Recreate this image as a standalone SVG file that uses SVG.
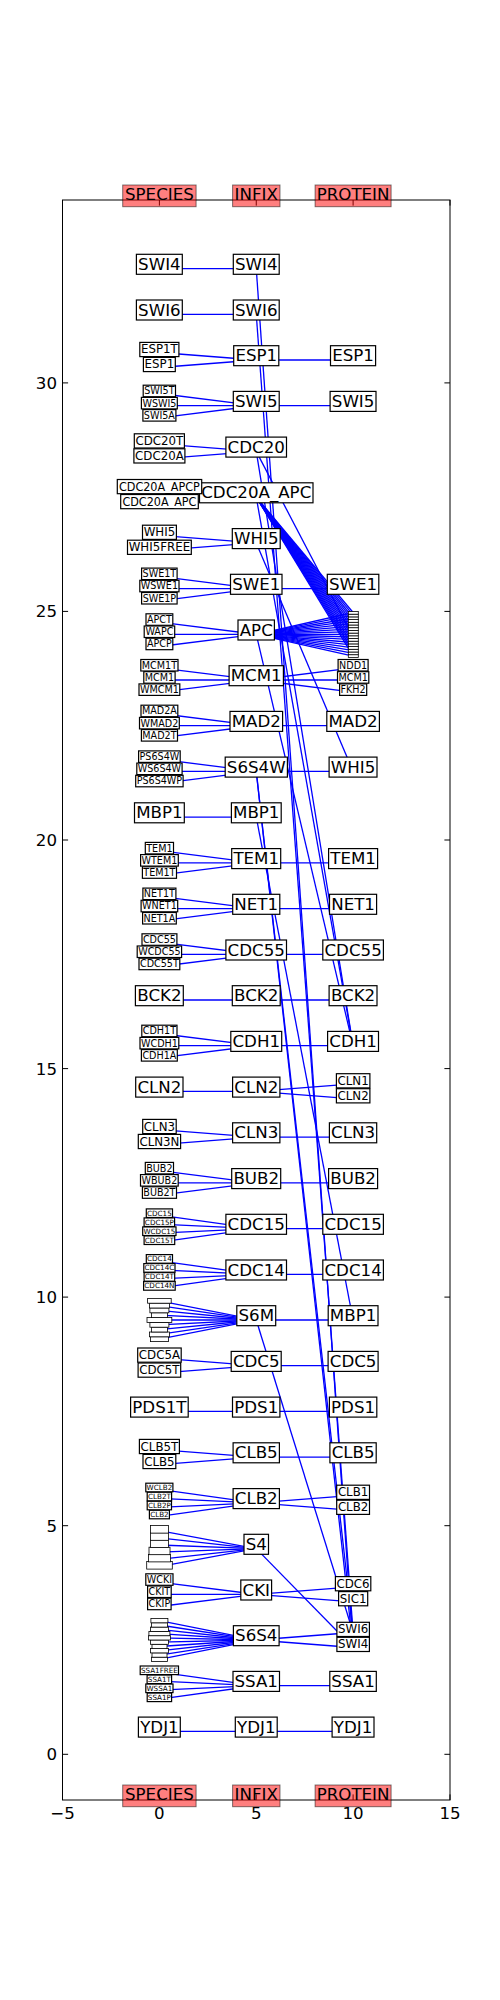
<svg xmlns="http://www.w3.org/2000/svg" width="500" height="2000" viewBox="0 0 500 2000">
<style>
.bg{fill:#fff}
.b{fill:#fff;stroke:#000;stroke-width:1.2}
.sb{fill:#fff;stroke:#000;stroke-width:0.8}
text{font-family:"DejaVu Sans","Liberation Sans",sans-serif;fill:#000;text-anchor:middle}
.f1{font-size:16.67px}.f2{font-size:11.8px}.f3{font-size:9.6px}.f4{font-size:7.2px}
#connectors line{stroke:#0000ff;stroke-width:1.3}
.h{fill:#ff0000;fill-opacity:0.5;stroke:#000;stroke-opacity:0.5}
.ax{fill:none;stroke:#000;stroke-width:1}
.tk{stroke:#000;stroke-width:1}
.yl{text-anchor:end}
</style>
<rect class="bg" x="0" y="0" width="500" height="2000"/>
<g id="axes">
<rect class="ax" x="62.5" y="200" width="387.5" height="1600"/>
<path class="tk" d="M62.5 1800v-5.6M159.4 1800v-5.6M256.25 1800v-5.6M353.1 1800v-5.6M450 1800v-5.6M62.5 200v5.6M159.4 200v5.6M256.25 200v5.6M353.1 200v5.6M450 200v5.6M62.5 1754.3h5.6M62.5 1525.7h5.6M62.5 1297.1h5.6M62.5 1068.6h5.6M62.5 840h5.6M62.5 611.4h5.6M62.5 382.9h5.6M450 1754.3h-5.6M450 1525.7h-5.6M450 1297.1h-5.6M450 1068.6h-5.6M450 840h-5.6M450 611.4h-5.6M450 382.9h-5.6"/>
<text class="f1" x="62.5" y="1818.5">−5</text>
<text class="f1" x="159.4" y="1818.5">0</text>
<text class="f1" x="256.25" y="1818.5">5</text>
<text class="f1" x="353.1" y="1818.5">10</text>
<text class="f1" x="450" y="1818.5">15</text>
<text class="f1 yl" x="57" y="1760.3">0</text>
<text class="f1 yl" x="57" y="1531.7">5</text>
<text class="f1 yl" x="57" y="1303.1">10</text>
<text class="f1 yl" x="57" y="1074.6">15</text>
<text class="f1 yl" x="57" y="846">20</text>
<text class="f1 yl" x="57" y="617.4">25</text>
<text class="f1 yl" x="57" y="388.9">30</text>
</g>
<g id="connectors">
<line x1="159.4" y1="268.6" x2="256.25" y2="268.6"/>
<line x1="159.4" y1="314.3" x2="256.25" y2="314.3"/>
<line x1="159.4" y1="352.5" x2="256.25" y2="360"/>
<line x1="159.4" y1="367.5" x2="256.25" y2="360"/>
<line x1="159.4" y1="393.5" x2="256.25" y2="405.7"/>
<line x1="159.4" y1="405.7" x2="256.25" y2="405.7"/>
<line x1="159.4" y1="417.9" x2="256.25" y2="405.7"/>
<line x1="159.4" y1="443.9" x2="256.25" y2="451.4"/>
<line x1="159.4" y1="458.9" x2="256.25" y2="451.4"/>
<line x1="159.4" y1="489.6" x2="256.25" y2="497.1"/>
<line x1="159.4" y1="504.6" x2="256.25" y2="497.1"/>
<line x1="159.4" y1="535.4" x2="256.25" y2="542.9"/>
<line x1="159.4" y1="550.4" x2="256.25" y2="542.9"/>
<line x1="159.4" y1="576.4" x2="256.25" y2="588.6"/>
<line x1="159.4" y1="588.6" x2="256.25" y2="588.6"/>
<line x1="159.4" y1="600.8" x2="256.25" y2="588.6"/>
<line x1="159.4" y1="622.1" x2="256.25" y2="634.3"/>
<line x1="159.4" y1="634.3" x2="256.25" y2="634.3"/>
<line x1="159.4" y1="646.5" x2="256.25" y2="634.3"/>
<line x1="159.4" y1="667.8" x2="256.25" y2="680"/>
<line x1="159.4" y1="680" x2="256.25" y2="680"/>
<line x1="159.4" y1="692.2" x2="256.25" y2="680"/>
<line x1="159.4" y1="713.5" x2="256.25" y2="725.7"/>
<line x1="159.4" y1="725.7" x2="256.25" y2="725.7"/>
<line x1="159.4" y1="737.9" x2="256.25" y2="725.7"/>
<line x1="159.4" y1="759.2" x2="256.25" y2="771.4"/>
<line x1="159.4" y1="771.4" x2="256.25" y2="771.4"/>
<line x1="159.4" y1="783.6" x2="256.25" y2="771.4"/>
<line x1="159.4" y1="817.1" x2="256.25" y2="817.1"/>
<line x1="159.4" y1="850.7" x2="256.25" y2="862.9"/>
<line x1="159.4" y1="862.9" x2="256.25" y2="862.9"/>
<line x1="159.4" y1="875.1" x2="256.25" y2="862.9"/>
<line x1="159.4" y1="896.4" x2="256.25" y2="908.6"/>
<line x1="159.4" y1="908.6" x2="256.25" y2="908.6"/>
<line x1="159.4" y1="920.8" x2="256.25" y2="908.6"/>
<line x1="159.4" y1="942.1" x2="256.25" y2="954.3"/>
<line x1="159.4" y1="954.3" x2="256.25" y2="954.3"/>
<line x1="159.4" y1="966.5" x2="256.25" y2="954.3"/>
<line x1="159.4" y1="1000" x2="256.25" y2="1000"/>
<line x1="159.4" y1="1033.5" x2="256.25" y2="1045.7"/>
<line x1="159.4" y1="1045.7" x2="256.25" y2="1045.7"/>
<line x1="159.4" y1="1057.9" x2="256.25" y2="1045.7"/>
<line x1="159.4" y1="1091.4" x2="256.25" y2="1091.4"/>
<line x1="159.4" y1="1129.6" x2="256.25" y2="1137.1"/>
<line x1="159.4" y1="1144.6" x2="256.25" y2="1137.1"/>
<line x1="159.4" y1="1170.7" x2="256.25" y2="1182.9"/>
<line x1="159.4" y1="1182.9" x2="256.25" y2="1182.9"/>
<line x1="159.4" y1="1195.1" x2="256.25" y2="1182.9"/>
<line x1="159.4" y1="1215.1" x2="256.25" y2="1228.6"/>
<line x1="159.4" y1="1224.1" x2="256.25" y2="1228.6"/>
<line x1="159.4" y1="1233.1" x2="256.25" y2="1228.6"/>
<line x1="159.4" y1="1242.1" x2="256.25" y2="1228.6"/>
<line x1="159.4" y1="1260.8" x2="256.25" y2="1274.3"/>
<line x1="159.4" y1="1269.8" x2="256.25" y2="1274.3"/>
<line x1="159.4" y1="1278.8" x2="256.25" y2="1274.3"/>
<line x1="159.4" y1="1287.8" x2="256.25" y2="1274.3"/>
<line x1="159.4" y1="1300.8" x2="256.25" y2="1320"/>
<line x1="159.4" y1="1305.6" x2="256.25" y2="1320"/>
<line x1="159.4" y1="1310.4" x2="256.25" y2="1320"/>
<line x1="159.4" y1="1315.2" x2="256.25" y2="1320"/>
<line x1="159.4" y1="1320" x2="256.25" y2="1320"/>
<line x1="159.4" y1="1324.8" x2="256.25" y2="1320"/>
<line x1="159.4" y1="1329.6" x2="256.25" y2="1320"/>
<line x1="159.4" y1="1334.4" x2="256.25" y2="1320"/>
<line x1="159.4" y1="1339.2" x2="256.25" y2="1320"/>
<line x1="159.4" y1="1358.2" x2="256.25" y2="1365.7"/>
<line x1="159.4" y1="1373.2" x2="256.25" y2="1365.7"/>
<line x1="159.4" y1="1411.4" x2="256.25" y2="1411.4"/>
<line x1="159.4" y1="1449.6" x2="256.25" y2="1457.1"/>
<line x1="159.4" y1="1464.6" x2="256.25" y2="1457.1"/>
<line x1="159.4" y1="1489.4" x2="256.25" y2="1502.9"/>
<line x1="159.4" y1="1498.4" x2="256.25" y2="1502.9"/>
<line x1="159.4" y1="1507.4" x2="256.25" y2="1502.9"/>
<line x1="159.4" y1="1516.4" x2="256.25" y2="1502.9"/>
<line x1="159.4" y1="1530.6" x2="256.25" y2="1548.6"/>
<line x1="159.4" y1="1537.8" x2="256.25" y2="1548.6"/>
<line x1="159.4" y1="1545" x2="256.25" y2="1548.6"/>
<line x1="159.4" y1="1552.2" x2="256.25" y2="1548.6"/>
<line x1="159.4" y1="1559.4" x2="256.25" y2="1548.6"/>
<line x1="159.4" y1="1566.6" x2="256.25" y2="1548.6"/>
<line x1="159.4" y1="1582.1" x2="256.25" y2="1594.3"/>
<line x1="159.4" y1="1594.3" x2="256.25" y2="1594.3"/>
<line x1="159.4" y1="1606.5" x2="256.25" y2="1594.3"/>
<line x1="159.4" y1="1620.7" x2="256.25" y2="1640"/>
<line x1="159.4" y1="1625" x2="256.25" y2="1640"/>
<line x1="159.4" y1="1629.3" x2="256.25" y2="1640"/>
<line x1="159.4" y1="1633.6" x2="256.25" y2="1640"/>
<line x1="159.4" y1="1637.9" x2="256.25" y2="1640"/>
<line x1="159.4" y1="1642.2" x2="256.25" y2="1640"/>
<line x1="159.4" y1="1646.5" x2="256.25" y2="1640"/>
<line x1="159.4" y1="1650.8" x2="256.25" y2="1640"/>
<line x1="159.4" y1="1655.1" x2="256.25" y2="1640"/>
<line x1="159.4" y1="1659.4" x2="256.25" y2="1640"/>
<line x1="159.4" y1="1672.2" x2="256.25" y2="1685.7"/>
<line x1="159.4" y1="1681.2" x2="256.25" y2="1685.7"/>
<line x1="159.4" y1="1690.2" x2="256.25" y2="1685.7"/>
<line x1="159.4" y1="1699.2" x2="256.25" y2="1685.7"/>
<line x1="159.4" y1="1731.4" x2="256.25" y2="1731.4"/>
<line x1="256.25" y1="268.6" x2="353.1" y2="1647.5"/>
<line x1="256.25" y1="314.3" x2="353.1" y2="1632.5"/>
<line x1="256.25" y1="360" x2="353.1" y2="360"/>
<line x1="256.25" y1="405.7" x2="353.1" y2="405.7"/>
<line x1="256.25" y1="451.4" x2="353.1" y2="637"/>
<line x1="256.25" y1="451.4" x2="353.1" y2="1045.7"/>
<line x1="256.25" y1="497.1" x2="353.1" y2="1045.7"/>
<line x1="256.25" y1="497.1" x2="353.1" y2="612.5"/>
<line x1="256.25" y1="497.1" x2="353.1" y2="615.2"/>
<line x1="256.25" y1="497.1" x2="353.1" y2="618"/>
<line x1="256.25" y1="497.1" x2="353.1" y2="620.7"/>
<line x1="256.25" y1="497.1" x2="353.1" y2="623.4"/>
<line x1="256.25" y1="497.1" x2="353.1" y2="626.1"/>
<line x1="256.25" y1="497.1" x2="353.1" y2="628.9"/>
<line x1="256.25" y1="497.1" x2="353.1" y2="631.6"/>
<line x1="256.25" y1="497.1" x2="353.1" y2="634.3"/>
<line x1="256.25" y1="497.1" x2="353.1" y2="637"/>
<line x1="256.25" y1="497.1" x2="353.1" y2="639.7"/>
<line x1="256.25" y1="497.1" x2="353.1" y2="642.5"/>
<line x1="256.25" y1="497.1" x2="353.1" y2="645.2"/>
<line x1="256.25" y1="497.1" x2="353.1" y2="647.9"/>
<line x1="256.25" y1="497.1" x2="353.1" y2="650.6"/>
<line x1="256.25" y1="497.1" x2="353.1" y2="653.4"/>
<line x1="256.25" y1="497.1" x2="353.1" y2="656.1"/>
<line x1="256.25" y1="542.9" x2="353.1" y2="771.4"/>
<line x1="256.25" y1="588.6" x2="353.1" y2="588.6"/>
<line x1="256.25" y1="634.3" x2="353.1" y2="1045.7"/>
<line x1="256.25" y1="634.3" x2="353.1" y2="612.5"/>
<line x1="256.25" y1="634.3" x2="353.1" y2="615.2"/>
<line x1="256.25" y1="634.3" x2="353.1" y2="618"/>
<line x1="256.25" y1="634.3" x2="353.1" y2="620.7"/>
<line x1="256.25" y1="634.3" x2="353.1" y2="623.4"/>
<line x1="256.25" y1="634.3" x2="353.1" y2="626.1"/>
<line x1="256.25" y1="634.3" x2="353.1" y2="628.9"/>
<line x1="256.25" y1="634.3" x2="353.1" y2="631.6"/>
<line x1="256.25" y1="634.3" x2="353.1" y2="634.3"/>
<line x1="256.25" y1="634.3" x2="353.1" y2="637"/>
<line x1="256.25" y1="634.3" x2="353.1" y2="639.7"/>
<line x1="256.25" y1="634.3" x2="353.1" y2="642.5"/>
<line x1="256.25" y1="634.3" x2="353.1" y2="645.2"/>
<line x1="256.25" y1="634.3" x2="353.1" y2="647.9"/>
<line x1="256.25" y1="634.3" x2="353.1" y2="650.6"/>
<line x1="256.25" y1="634.3" x2="353.1" y2="653.4"/>
<line x1="256.25" y1="634.3" x2="353.1" y2="656.1"/>
<line x1="256.25" y1="680" x2="353.1" y2="667.8"/>
<line x1="256.25" y1="680" x2="353.1" y2="680"/>
<line x1="256.25" y1="680" x2="353.1" y2="692.2"/>
<line x1="256.25" y1="725.7" x2="353.1" y2="725.7"/>
<line x1="256.25" y1="771.4" x2="353.1" y2="771.4"/>
<line x1="256.25" y1="771.4" x2="353.1" y2="1632.5"/>
<line x1="256.25" y1="771.4" x2="353.1" y2="1647.5"/>
<line x1="256.25" y1="817.1" x2="353.1" y2="1320"/>
<line x1="256.25" y1="862.9" x2="353.1" y2="862.9"/>
<line x1="256.25" y1="908.6" x2="353.1" y2="908.6"/>
<line x1="256.25" y1="954.3" x2="353.1" y2="954.3"/>
<line x1="256.25" y1="1000" x2="353.1" y2="1000"/>
<line x1="256.25" y1="1045.7" x2="353.1" y2="1045.7"/>
<line x1="256.25" y1="1091.4" x2="353.1" y2="1083.9"/>
<line x1="256.25" y1="1091.4" x2="353.1" y2="1098.9"/>
<line x1="256.25" y1="1137.1" x2="353.1" y2="1137.1"/>
<line x1="256.25" y1="1182.9" x2="353.1" y2="1182.9"/>
<line x1="256.25" y1="1228.6" x2="353.1" y2="1228.6"/>
<line x1="256.25" y1="1274.3" x2="353.1" y2="1274.3"/>
<line x1="256.25" y1="1320" x2="353.1" y2="1320"/>
<line x1="256.25" y1="1320" x2="353.1" y2="1632.5"/>
<line x1="256.25" y1="1365.7" x2="353.1" y2="1365.7"/>
<line x1="256.25" y1="1411.4" x2="353.1" y2="1411.4"/>
<line x1="256.25" y1="1457.1" x2="353.1" y2="1457.1"/>
<line x1="256.25" y1="1502.9" x2="353.1" y2="1495.4"/>
<line x1="256.25" y1="1502.9" x2="353.1" y2="1510.4"/>
<line x1="256.25" y1="1548.6" x2="353.1" y2="1647.5"/>
<line x1="256.25" y1="1594.3" x2="353.1" y2="1586.8"/>
<line x1="256.25" y1="1594.3" x2="353.1" y2="1601.8"/>
<line x1="256.25" y1="1640" x2="353.1" y2="1632.5"/>
<line x1="256.25" y1="1640" x2="353.1" y2="1647.5"/>
<line x1="256.25" y1="1685.7" x2="353.1" y2="1685.7"/>
<line x1="256.25" y1="1731.4" x2="353.1" y2="1731.4"/>
</g>
<g id="infix">
<g id="i-SWI4"><rect class="b" x="233.3" y="254.3" width="45.9" height="20"/><text class="f1" x="256.25" y="269.9">SWI4</text></g>
<g id="i-SWI6"><rect class="b" x="233.3" y="300" width="45.9" height="20"/><text class="f1" x="256.25" y="315.6">SWI6</text></g>
<g id="i-ESP1"><rect class="b" x="233.7" y="345.7" width="45.1" height="20"/><text class="f1" x="256.25" y="361.3">ESP1</text></g>
<g id="i-SWI5"><rect class="b" x="233.3" y="391.4" width="45.9" height="20"/><text class="f1" x="256.25" y="407">SWI5</text></g>
<g id="i-CDC20"><rect class="b" x="225.9" y="437.1" width="60.6" height="20"/><text class="f1" x="256.25" y="452.7">CDC20</text></g>
<g id="i-CDC20A_APC"><rect class="b" x="199.5" y="482.8" width="113.5" height="20"/><text class="f1" x="256.25" y="498.4">CDC20A_APC</text></g>
<g id="i-WHI5"><rect class="b" x="232.3" y="528.6" width="47.9" height="20"/><text class="f1" x="256.25" y="544.2">WHI5</text></g>
<g id="i-SWE1"><rect class="b" x="230.5" y="574.3" width="51.5" height="20"/><text class="f1" x="256.25" y="589.9">SWE1</text></g>
<g id="i-APC"><rect class="b" x="238" y="620" width="36.4" height="20"/><text class="f1" x="256.25" y="635.6">APC</text></g>
<g id="i-MCM1"><rect class="b" x="229.1" y="665.7" width="54.3" height="20"/><text class="f1" x="256.25" y="681.3">MCM1</text></g>
<g id="i-MAD2"><rect class="b" x="230" y="711.4" width="52.6" height="20"/><text class="f1" x="256.25" y="727">MAD2</text></g>
<g id="i-S6S4W"><rect class="b" x="225.2" y="757.1" width="62.2" height="20"/><text class="f1" x="256.25" y="772.7">S6S4W</text></g>
<g id="i-MBP1"><rect class="b" x="231.4" y="802.8" width="49.8" height="20"/><text class="f1" x="256.25" y="818.4">MBP1</text></g>
<g id="i-TEM1"><rect class="b" x="231.7" y="848.6" width="49" height="20"/><text class="f1" x="256.25" y="864.2">TEM1</text></g>
<g id="i-NET1"><rect class="b" x="232.7" y="894.3" width="47.1" height="20"/><text class="f1" x="256.25" y="909.9">NET1</text></g>
<g id="i-CDC55"><rect class="b" x="225.9" y="940" width="60.6" height="20"/><text class="f1" x="256.25" y="955.6">CDC55</text></g>
<g id="i-BCK2"><rect class="b" x="232.3" y="985.7" width="47.9" height="20"/><text class="f1" x="256.25" y="1001.3">BCK2</text></g>
<g id="i-CDH1"><rect class="b" x="230.8" y="1031.4" width="50.9" height="20"/><text class="f1" x="256.25" y="1047">CDH1</text></g>
<g id="i-CLN2"><rect class="b" x="232.6" y="1077.1" width="47.3" height="20"/><text class="f1" x="256.25" y="1092.7">CLN2</text></g>
<g id="i-CLN3"><rect class="b" x="232.6" y="1122.8" width="47.3" height="20"/><text class="f1" x="256.25" y="1138.4">CLN3</text></g>
<g id="i-BUB2"><rect class="b" x="231.7" y="1168.6" width="49" height="20"/><text class="f1" x="256.25" y="1184.2">BUB2</text></g>
<g id="i-CDC15"><rect class="b" x="225.9" y="1214.3" width="60.6" height="20"/><text class="f1" x="256.25" y="1229.9">CDC15</text></g>
<g id="i-CDC14"><rect class="b" x="225.9" y="1260" width="60.6" height="20"/><text class="f1" x="256.25" y="1275.6">CDC14</text></g>
<g id="i-S6M"><rect class="b" x="236.8" y="1305.7" width="38.9" height="20"/><text class="f1" x="256.25" y="1321.3">S6M</text></g>
<g id="i-CDC5"><rect class="b" x="231.2" y="1351.4" width="50" height="20"/><text class="f1" x="256.25" y="1367">CDC5</text></g>
<g id="i-PDS1"><rect class="b" x="232.5" y="1397.1" width="47.4" height="20"/><text class="f1" x="256.25" y="1412.7">PDS1</text></g>
<g id="i-CLB5"><rect class="b" x="233.1" y="1442.8" width="46.3" height="20"/><text class="f1" x="256.25" y="1458.4">CLB5</text></g>
<g id="i-CLB2"><rect class="b" x="233.1" y="1488.6" width="46.3" height="20"/><text class="f1" x="256.25" y="1504.2">CLB2</text></g>
<g id="i-S4"><rect class="b" x="244" y="1534.3" width="24.5" height="20"/><text class="f1" x="256.25" y="1549.9">S4</text></g>
<g id="i-CKI"><rect class="b" x="240.8" y="1580" width="30.8" height="20"/><text class="f1" x="256.25" y="1595.6">CKI</text></g>
<g id="i-S6S4"><rect class="b" x="233.4" y="1625.7" width="45.7" height="20"/><text class="f1" x="256.25" y="1641.3">S6S4</text></g>
<g id="i-SSA1"><rect class="b" x="233" y="1671.4" width="46.5" height="20"/><text class="f1" x="256.25" y="1687">SSA1</text></g>
<g id="i-YDJ1"><rect class="b" x="235.3" y="1717.1" width="41.9" height="20"/><text class="f1" x="256.25" y="1732.7">YDJ1</text></g>
</g>
<g id="species">
<g id="s-SWI4"><rect class="b" x="136.4" y="254.3" width="45.9" height="20"/><text class="f1" x="159.4" y="269.9">SWI4</text></g>
<g id="s-SWI6"><rect class="b" x="136.4" y="300" width="45.9" height="20"/><text class="f1" x="159.4" y="315.6">SWI6</text></g>
<g id="s-ESP1"><rect class="b" x="143.4" y="357.4" width="31.9" height="14.2"/><text class="f2" x="159.4" y="368.4">ESP1</text></g>
<g id="s-ESP1T"><rect class="b" x="139.8" y="342.4" width="39.1" height="14.2"/><text class="f2" x="159.4" y="353.4">ESP1T</text></g>
<g id="s-SWI5A"><rect class="b" x="142.9" y="409.6" width="33" height="11.5"/><text class="f3" x="159.4" y="418.7">SWI5A</text></g>
<g id="s-WSWI5"><rect class="b" x="141.4" y="397.4" width="35.9" height="11.5"/><text class="f3" x="159.4" y="406.5">WSWI5</text></g>
<g id="s-SWI5T"><rect class="b" x="143.2" y="385.2" width="32.3" height="11.5"/><text class="f3" x="159.4" y="394.3">SWI5T</text></g>
<g id="s-CDC20A"><rect class="b" x="133.9" y="448.8" width="51" height="14.2"/><text class="f2" x="159.4" y="459.8">CDC20A</text></g>
<g id="s-CDC20T"><rect class="b" x="134.3" y="433.8" width="50.1" height="14.2"/><text class="f2" x="159.4" y="444.8">CDC20T</text></g>
<g id="s-CDC20A_APC"><rect class="b" x="120.7" y="494.5" width="77.6" height="14.2"/><text class="f2" x="159.4" y="505.5" textLength="74" lengthAdjust="spacingAndGlyphs">CDC20A_APC</text></g>
<g id="s-CDC20A_APCP"><rect class="b" x="117.3" y="479.5" width="84.4" height="14.2"/><text class="f2" x="159.4" y="490.5" textLength="81" lengthAdjust="spacingAndGlyphs">CDC20A_APCP</text></g>
<g id="s-WHI5FREE"><rect class="b" x="127.5" y="540.2" width="63.8" height="14.2"/><text class="f2" x="159.4" y="551.3">WHI5FREE</text></g>
<g id="s-WHI5"><rect class="b" x="142.5" y="525.2" width="33.9" height="14.2"/><text class="f2" x="159.4" y="536.3">WHI5</text></g>
<g id="s-SWE1P"><rect class="b" x="141.6" y="592.5" width="35.5" height="11.5"/><text class="f3" x="159.4" y="601.6">SWE1P</text></g>
<g id="s-WSWE1"><rect class="b" x="139.8" y="580.3" width="39.2" height="11.5"/><text class="f3" x="159.4" y="589.4">WSWE1</text></g>
<g id="s-SWE1T"><rect class="b" x="141.6" y="568.1" width="35.5" height="11.5"/><text class="f3" x="159.4" y="577.2">SWE1T</text></g>
<g id="s-APCP"><rect class="b" x="146" y="638.2" width="26.8" height="11.5"/><text class="f3" x="159.4" y="647.3">APCP</text></g>
<g id="s-WAPC"><rect class="b" x="144.2" y="626" width="30.5" height="11.5"/><text class="f3" x="159.4" y="635.1">WAPC</text></g>
<g id="s-APCT"><rect class="b" x="146" y="613.8" width="26.8" height="11.5"/><text class="f3" x="159.4" y="622.9">APCT</text></g>
<g id="s-WMCM1"><rect class="b" x="139" y="683.9" width="40.8" height="11.5"/><text class="f3" x="159.4" y="693">WMCM1</text></g>
<g id="s-MCM1"><rect class="b" x="143.8" y="671.7" width="31.3" height="11.5"/><text class="f3" x="159.4" y="680.8">MCM1</text></g>
<g id="s-MCM1T"><rect class="b" x="140.8" y="659.5" width="37.2" height="11.5"/><text class="f3" x="159.4" y="668.6">MCM1T</text></g>
<g id="s-MAD2T"><rect class="b" x="141.4" y="729.6" width="36.1" height="11.5"/><text class="f3" x="159.4" y="738.7">MAD2T</text></g>
<g id="s-WMAD2"><rect class="b" x="139.5" y="717.4" width="39.8" height="11.5"/><text class="f3" x="159.4" y="726.5">WMAD2</text></g>
<g id="s-MAD2A"><rect class="b" x="141" y="705.2" width="36.8" height="11.5"/><text class="f3" x="159.4" y="714.3">MAD2A</text></g>
<g id="s-PS6S4WP"><rect class="b" x="135.7" y="775.3" width="47.4" height="11.5"/><text class="f3" x="159.4" y="784.4">PS6S4WP</text></g>
<g id="s-WS6S4W"><rect class="b" x="136.8" y="763.1" width="45.3" height="11.5"/><text class="f3" x="159.4" y="772.2">WS6S4W</text></g>
<g id="s-PS6S4W"><rect class="b" x="138.6" y="750.9" width="41.6" height="11.5"/><text class="f3" x="159.4" y="760">PS6S4W</text></g>
<g id="s-MBP1"><rect class="b" x="134.5" y="802.8" width="49.8" height="20"/><text class="f1" x="159.4" y="818.4">MBP1</text></g>
<g id="s-TEM1T"><rect class="b" x="142.4" y="866.8" width="34.1" height="11.5"/><text class="f3" x="159.4" y="875.9">TEM1T</text></g>
<g id="s-WTEM1"><rect class="b" x="140.6" y="854.6" width="37.7" height="11.5"/><text class="f3" x="159.4" y="863.7">WTEM1</text></g>
<g id="s-TEM1"><rect class="b" x="145.3" y="842.4" width="28.2" height="11.5"/><text class="f3" x="159.4" y="851.5">TEM1</text></g>
<g id="s-NET1A"><rect class="b" x="142.6" y="912.5" width="33.7" height="11.5"/><text class="f3" x="159.4" y="921.6">NET1A</text></g>
<g id="s-WNET1"><rect class="b" x="141.1" y="900.3" width="36.6" height="11.5"/><text class="f3" x="159.4" y="909.4">WNET1</text></g>
<g id="s-NET1T"><rect class="b" x="142.9" y="888.1" width="33" height="11.5"/><text class="f3" x="159.4" y="897.2">NET1T</text></g>
<g id="s-CDC55T"><rect class="b" x="139" y="958.2" width="40.8" height="11.5"/><text class="f3" x="159.4" y="967.3">CDC55T</text></g>
<g id="s-WCDC55"><rect class="b" x="137.2" y="946" width="44.4" height="11.5"/><text class="f3" x="159.4" y="955.1">WCDC55</text></g>
<g id="s-CDC55"><rect class="b" x="142" y="933.8" width="34.9" height="11.5"/><text class="f3" x="159.4" y="942.9">CDC55</text></g>
<g id="s-BCK2"><rect class="b" x="135.4" y="985.7" width="47.9" height="20"/><text class="f1" x="159.4" y="1001.3">BCK2</text></g>
<g id="s-CDH1A"><rect class="b" x="141.4" y="1049.6" width="35.9" height="11.5"/><text class="f3" x="159.4" y="1058.7">CDH1A</text></g>
<g id="s-WCDH1"><rect class="b" x="140" y="1037.4" width="38.8" height="11.5"/><text class="f3" x="159.4" y="1046.5">WCDH1</text></g>
<g id="s-CDH1T"><rect class="b" x="141.8" y="1025.2" width="35.2" height="11.5"/><text class="f3" x="159.4" y="1034.3">CDH1T</text></g>
<g id="s-CLN2"><rect class="b" x="135.7" y="1077.1" width="47.3" height="20"/><text class="f1" x="159.4" y="1092.7">CLN2</text></g>
<g id="s-CLN3N"><rect class="b" x="138.3" y="1134.4" width="42.3" height="14.2"/><text class="f2" x="159.4" y="1145.5">CLN3N</text></g>
<g id="s-CLN3"><rect class="b" x="142.7" y="1119.4" width="33.5" height="14.2"/><text class="f2" x="159.4" y="1130.5">CLN3</text></g>
<g id="s-BUB2T"><rect class="b" x="142.4" y="1186.8" width="34.1" height="11.5"/><text class="f3" x="159.4" y="1195.9">BUB2T</text></g>
<g id="s-WBUB2"><rect class="b" x="140.5" y="1174.6" width="37.7" height="11.5"/><text class="f3" x="159.4" y="1183.7">WBUB2</text></g>
<g id="s-BUB2"><rect class="b" x="145.3" y="1162.4" width="28.2" height="11.5"/><text class="f3" x="159.4" y="1171.5">BUB2</text></g>
<g id="s-CDC15T"><rect class="b" x="144.1" y="1235.9" width="30.6" height="8.6"/><text class="f4" x="159.4" y="1242.7">CDC15T</text></g>
<g id="s-WCDC15"><rect class="b" x="142.7" y="1226.9" width="33.3" height="8.6"/><text class="f4" x="159.4" y="1233.7">WCDC15</text></g>
<g id="s-CDC15P"><rect class="b" x="144.1" y="1217.9" width="30.5" height="8.6"/><text class="f4" x="159.4" y="1224.7">CDC15P</text></g>
<g id="s-CDC15"><rect class="b" x="146.3" y="1208.9" width="26.2" height="8.6"/><text class="f4" x="159.4" y="1215.7">CDC15</text></g>
<g id="s-CDC14N"><rect class="b" x="143.6" y="1281.6" width="31.6" height="8.6"/><text class="f4" x="159.4" y="1288.4">CDC14N</text></g>
<g id="s-CDC14T"><rect class="b" x="144.1" y="1272.6" width="30.6" height="8.6"/><text class="f4" x="159.4" y="1279.4">CDC14T</text></g>
<g id="s-CDC14C"><rect class="b" x="143.8" y="1263.6" width="31.2" height="8.6"/><text class="f4" x="159.4" y="1270.4">CDC14C</text></g>
<g id="s-CDC14"><rect class="b" x="146.3" y="1254.6" width="26.2" height="8.6"/><text class="f4" x="159.4" y="1261.4">CDC14</text></g>
<g id="s-S6M">
<rect class="sb" x="150.4" y="1336.8" width="18" height="4.8"/>
<rect class="sb" x="149.4" y="1332" width="20" height="4.8"/>
<rect class="sb" x="151.4" y="1327.2" width="16" height="4.8"/>
<rect class="sb" x="149.9" y="1322.4" width="19" height="4.8"/>
<rect class="sb" x="147" y="1317.6" width="24.8" height="4.8"/>
<rect class="sb" x="151.4" y="1312.8" width="16" height="4.8"/>
<rect class="sb" x="149.9" y="1308" width="19" height="4.8"/>
<rect class="sb" x="149.4" y="1303.2" width="20" height="4.8"/>
<rect class="sb" x="147.6" y="1298.4" width="23.6" height="4.8"/>
</g>
<g id="s-CDC5T"><rect class="b" x="138.1" y="1363" width="42.6" height="14.2"/><text class="f2" x="159.4" y="1374.1">CDC5T</text></g>
<g id="s-CDC5A"><rect class="b" x="137.7" y="1348" width="43.5" height="14.2"/><text class="f2" x="159.4" y="1359.1">CDC5A</text></g>
<g id="s-PDS1T"><rect class="b" x="130.6" y="1397.1" width="57.6" height="20"/><text class="f1" x="159.4" y="1412.7">PDS1T</text></g>
<g id="s-CLB5"><rect class="b" x="143" y="1454.4" width="32.8" height="14.2"/><text class="f2" x="159.4" y="1465.5">CLB5</text></g>
<g id="s-CLB5T"><rect class="b" x="139.4" y="1439.4" width="40" height="14.2"/><text class="f2" x="159.4" y="1450.5">CLB5T</text></g>
<g id="s-CLB2"><rect class="b" x="149.4" y="1510.2" width="20" height="8.6"/><text class="f4" x="159.4" y="1517">CLB2</text></g>
<g id="s-CLB2P"><rect class="b" x="147.2" y="1501.2" width="24.3" height="8.6"/><text class="f4" x="159.4" y="1508">CLB2P</text></g>
<g id="s-CLB2T"><rect class="b" x="147.2" y="1492.2" width="24.4" height="8.6"/><text class="f4" x="159.4" y="1499">CLB2T</text></g>
<g id="s-WCLB2"><rect class="b" x="145.8" y="1483.2" width="27.1" height="8.6"/><text class="f4" x="159.4" y="1490">WCLB2</text></g>
<g id="s-S4">
<rect class="sb" x="146.7" y="1561.6" width="25.6" height="7.5"/>
<rect class="sb" x="148.4" y="1554.4" width="22" height="7.5"/>
<rect class="sb" x="149" y="1547.2" width="21" height="7.5"/>
<rect class="sb" x="150.4" y="1540" width="18" height="7.5"/>
<rect class="sb" x="150.4" y="1532.8" width="18" height="7.5"/>
<rect class="sb" x="150.4" y="1525.6" width="18" height="7.5"/>
</g>
<g id="s-CKIP"><rect class="b" x="147.6" y="1598.2" width="23.5" height="11.5"/><text class="f3" x="159.4" y="1607.3">CKIP</text></g>
<g id="s-CKIT"><rect class="b" x="147.6" y="1586" width="23.6" height="11.5"/><text class="f3" x="159.4" y="1595.1">CKIT</text></g>
<g id="s-WCKI"><rect class="b" x="145.8" y="1573.8" width="27.2" height="11.5"/><text class="f3" x="159.4" y="1582.9">WCKI</text></g>
<g id="s-S6S4">
<rect class="sb" x="151.4" y="1657.2" width="16" height="4.3"/>
<rect class="sb" x="152" y="1652.9" width="15" height="4.3"/>
<rect class="sb" x="150.4" y="1648.6" width="18" height="4.3"/>
<rect class="sb" x="152" y="1644.3" width="15" height="4.3"/>
<rect class="sb" x="150.4" y="1640" width="18" height="4.3"/>
<rect class="sb" x="148.4" y="1635.7" width="22" height="4.3"/>
<rect class="sb" x="148.9" y="1631.4" width="21" height="4.3"/>
<rect class="sb" x="150.4" y="1627.1" width="18" height="4.3"/>
<rect class="sb" x="151.4" y="1622.8" width="16" height="4.3"/>
<rect class="sb" x="150.9" y="1618.5" width="17" height="4.3"/>
</g>
<g id="s-SSA1P"><rect class="b" x="147.2" y="1693" width="24.4" height="8.6"/><text class="f4" x="159.4" y="1699.8">SSA1P</text></g>
<g id="s-WSSA1"><rect class="b" x="145.8" y="1684" width="27.2" height="8.6"/><text class="f4" x="159.4" y="1690.8">WSSA1</text></g>
<g id="s-SSA1T"><rect class="b" x="147.1" y="1675" width="24.5" height="8.6"/><text class="f4" x="159.4" y="1681.8">SSA1T</text></g>
<g id="s-SSA1FREE"><rect class="b" x="140.2" y="1666" width="38.3" height="8.6"/><text class="f4" x="159.4" y="1672.8">SSA1FREE</text></g>
<g id="s-YDJ1"><rect class="b" x="138.4" y="1717.1" width="41.9" height="20"/><text class="f1" x="159.4" y="1732.7">YDJ1</text></g>
</g>
<g id="protein">
<g id="p-ESP1"><rect class="b" x="330.5" y="345.7" width="45.1" height="20"/><text class="f1" x="353.1" y="361.3">ESP1</text></g>
<g id="p-SWI5"><rect class="b" x="330.1" y="391.4" width="45.9" height="20"/><text class="f1" x="353.1" y="407">SWI5</text></g>
<g id="p-SWE1"><rect class="b" x="327.3" y="574.3" width="51.5" height="20"/><text class="f1" x="353.1" y="589.9">SWE1</text></g>
<g id="p-APC-stack">
<rect class="sb" x="348.3" y="654.7" width="10" height="2.7"/>
<rect class="sb" x="348.3" y="652" width="10" height="2.7"/>
<rect class="sb" x="348.3" y="649.3" width="10" height="2.7"/>
<rect class="sb" x="348.3" y="646.6" width="10" height="2.7"/>
<rect class="sb" x="348.3" y="643.9" width="10" height="2.7"/>
<rect class="sb" x="348.3" y="641.2" width="10" height="2.7"/>
<rect class="sb" x="348.3" y="638.5" width="10" height="2.7"/>
<rect class="sb" x="348.3" y="635.8" width="10" height="2.7"/>
<rect class="sb" x="348.3" y="633.1" width="10" height="2.7"/>
<rect class="sb" x="348.3" y="630.4" width="10" height="2.7"/>
<rect class="sb" x="348.3" y="627.7" width="10" height="2.7"/>
<rect class="sb" x="348.3" y="625" width="10" height="2.7"/>
<rect class="sb" x="348.3" y="622.3" width="10" height="2.7"/>
<rect class="sb" x="348.3" y="619.6" width="10" height="2.7"/>
<rect class="sb" x="348.3" y="616.9" width="10" height="2.7"/>
<rect class="sb" x="348.3" y="614.2" width="10" height="2.7"/>
<rect class="sb" x="348.3" y="611.5" width="10" height="2.7"/>
</g>
<g id="p-FKH2"><rect class="b" x="339.6" y="683.9" width="27.1" height="11.5"/><text class="f3" x="353.1" y="693">FKH2</text></g>
<g id="p-MCM1"><rect class="b" x="337.5" y="671.7" width="31.3" height="11.5"/><text class="f3" x="353.1" y="680.8">MCM1</text></g>
<g id="p-NDD1"><rect class="b" x="338.1" y="659.5" width="30" height="11.5"/><text class="f3" x="353.1" y="668.6">NDD1</text></g>
<g id="p-MAD2"><rect class="b" x="326.8" y="711.4" width="52.6" height="20"/><text class="f1" x="353.1" y="727">MAD2</text></g>
<g id="p-WHI5"><rect class="b" x="329.1" y="757.1" width="47.9" height="20"/><text class="f1" x="353.1" y="772.7">WHI5</text></g>
<g id="p-TEM1"><rect class="b" x="328.6" y="848.6" width="49" height="20"/><text class="f1" x="353.1" y="864.2">TEM1</text></g>
<g id="p-NET1"><rect class="b" x="329.5" y="894.3" width="47.1" height="20"/><text class="f1" x="353.1" y="909.9">NET1</text></g>
<g id="p-CDC55"><rect class="b" x="322.8" y="940" width="60.6" height="20"/><text class="f1" x="353.1" y="955.6">CDC55</text></g>
<g id="p-BCK2"><rect class="b" x="329.1" y="985.7" width="47.9" height="20"/><text class="f1" x="353.1" y="1001.3">BCK2</text></g>
<g id="p-CDH1"><rect class="b" x="327.6" y="1031.4" width="50.9" height="20"/><text class="f1" x="353.1" y="1047">CDH1</text></g>
<g id="p-CLN2"><rect class="b" x="336.4" y="1088.7" width="33.5" height="14.2"/><text class="f2" x="353.1" y="1099.8">CLN2</text></g>
<g id="p-CLN1"><rect class="b" x="336.4" y="1073.7" width="33.5" height="14.2"/><text class="f2" x="353.1" y="1084.8">CLN1</text></g>
<g id="p-CLN3"><rect class="b" x="329.4" y="1122.8" width="47.3" height="20"/><text class="f1" x="353.1" y="1138.4">CLN3</text></g>
<g id="p-BUB2"><rect class="b" x="328.6" y="1168.6" width="49" height="20"/><text class="f1" x="353.1" y="1184.2">BUB2</text></g>
<g id="p-CDC15"><rect class="b" x="322.8" y="1214.3" width="60.6" height="20"/><text class="f1" x="353.1" y="1229.9">CDC15</text></g>
<g id="p-CDC14"><rect class="b" x="322.8" y="1260" width="60.6" height="20"/><text class="f1" x="353.1" y="1275.6">CDC14</text></g>
<g id="p-MBP1"><rect class="b" x="328.2" y="1305.7" width="49.8" height="20"/><text class="f1" x="353.1" y="1321.3">MBP1</text></g>
<g id="p-CDC5"><rect class="b" x="328.1" y="1351.4" width="50" height="20"/><text class="f1" x="353.1" y="1367">CDC5</text></g>
<g id="p-PDS1"><rect class="b" x="329.4" y="1397.1" width="47.4" height="20"/><text class="f1" x="353.1" y="1412.7">PDS1</text></g>
<g id="p-CLB5"><rect class="b" x="329.9" y="1442.8" width="46.3" height="20"/><text class="f1" x="353.1" y="1458.4">CLB5</text></g>
<g id="p-CLB2"><rect class="b" x="336.7" y="1500.2" width="32.8" height="14.2"/><text class="f2" x="353.1" y="1511.3">CLB2</text></g>
<g id="p-CLB1"><rect class="b" x="336.7" y="1485.2" width="32.8" height="14.2"/><text class="f2" x="353.1" y="1496.3">CLB1</text></g>
<g id="p-SIC1"><rect class="b" x="338.6" y="1591.6" width="29.1" height="14.2"/><text class="f2" x="353.1" y="1602.7">SIC1</text></g>
<g id="p-CDC6"><rect class="b" x="335.4" y="1576.6" width="35.4" height="14.2"/><text class="f2" x="353.1" y="1587.7">CDC6</text></g>
<g id="p-SWI4"><rect class="b" x="336.9" y="1637.3" width="32.5" height="14.2"/><text class="f2" x="353.1" y="1648.4">SWI4</text></g>
<g id="p-SWI6"><rect class="b" x="336.9" y="1622.3" width="32.5" height="14.2"/><text class="f2" x="353.1" y="1633.4">SWI6</text></g>
<g id="p-SSA1"><rect class="b" x="329.8" y="1671.4" width="46.5" height="20"/><text class="f1" x="353.1" y="1687">SSA1</text></g>
<g id="p-YDJ1"><rect class="b" x="332.1" y="1717.1" width="41.9" height="20"/><text class="f1" x="353.1" y="1732.7">YDJ1</text></g>
</g>
<g id="headers">
<rect class="h" x="122.7" y="185" width="73.4" height="21.7"/><text class="f1" x="159.4" y="200">SPECIES</text>
<rect class="h" x="232.6" y="185" width="47.4" height="21.7"/><text class="f1" x="256.25" y="200">INFIX</text>
<rect class="h" x="315.1" y="185" width="76" height="21.7"/><text class="f1" x="353.1" y="200">PROTEIN</text>
<rect class="h" x="122.7" y="1785" width="73.4" height="21.7"/><text class="f1" x="159.4" y="1800">SPECIES</text>
<rect class="h" x="232.6" y="1785" width="47.4" height="21.7"/><text class="f1" x="256.25" y="1800">INFIX</text>
<rect class="h" x="315.1" y="1785" width="76" height="21.7"/><text class="f1" x="353.1" y="1800">PROTEIN</text>
</g>
</svg>
